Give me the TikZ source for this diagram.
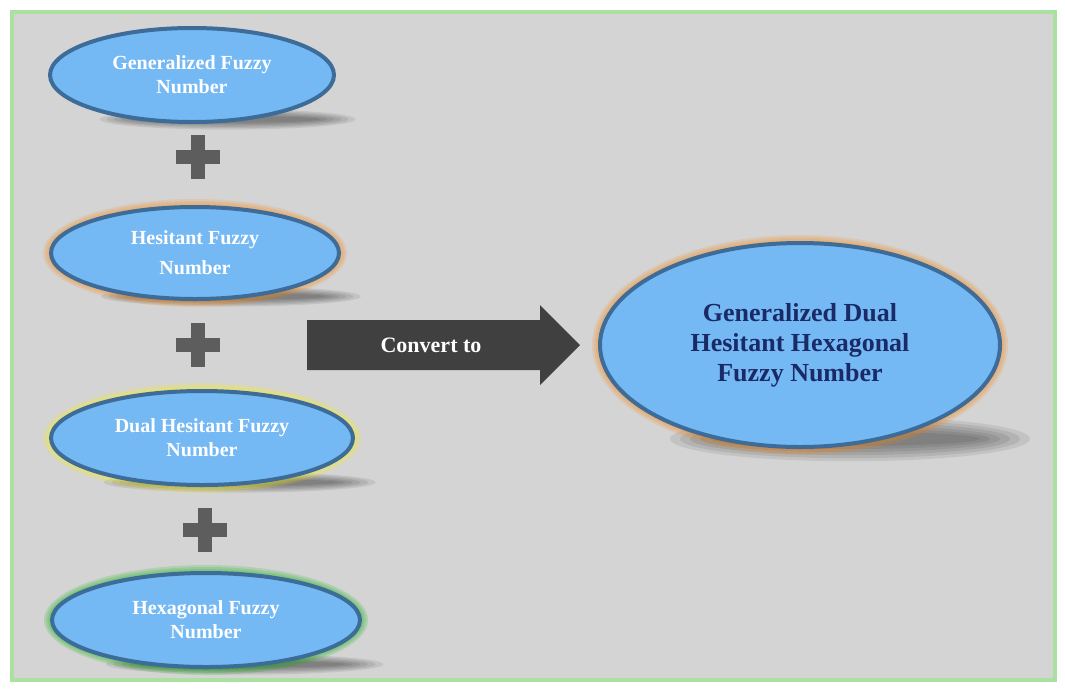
\documentclass[tikz,border=0pt]{standalone}
\usepackage{fontspec}
\setmainfont{Liberation Serif}
\usetikzlibrary{shapes.geometric}
\definecolor{bg}{HTML}{D4D4D4}
\definecolor{ef}{HTML}{74B8F4}
\definecolor{eb}{HTML}{3D6C98}
\definecolor{dk}{HTML}{404040}
\definecolor{navy}{HTML}{1A2A66}
\begin{document}
\begin{tikzpicture}[x=1pt,y=-1pt,
  ell/.style={ellipse,draw=eb,line width=4pt,fill=ef,inner sep=0pt,
    font=\bfseries\fontsize{20}{24}\selectfont,text=white,align=center},
  plus/.style={fill=dk!85}]
\useasboundingbox (0,0) rectangle (1065,689);
\fill[white] (0,0) rectangle (1065,689);
\draw[draw={rgb,255:red,170;green,225;blue,160},line width=4pt,fill=bg] (12,12) rectangle (1055,680);
% shadows
\foreach \x/\y/\rx/\ry in {192/75/142/47, 195/253/144/46, 202/438/151/47, 206/620/154/47, 800/345/200/102}{
  \foreach \k in {1,...,6}
    \fill[black,opacity=0.08] ({\x+0.25*\rx},{\y+0.9*\ry+2}) ellipse ({\rx*(0.6+0.05*\k)} and {\ry*(0.04+0.03*\k)});
}
% glows
\foreach \c/\x/\y/\rx/\ry in {orange/195/253/144/46, yellow/202/438/151/47, green!70!black/206/620/154/47, orange/800/345/200/102}
  \foreach \k in {2,4,6,8}
    \fill[\c,opacity=0.15] (\x,\y) ellipse ({\rx+\k} and {\ry+\k});
\node[ell,minimum width=284pt,minimum height=94pt] (a) at (192,75) {Generalized Fuzzy\\Number};
\node[ell,minimum width=288pt,minimum height=92pt] (b) at (195,253) {Hesitant Fuzzy\\[6pt]Number};
\node[ell,minimum width=302pt,minimum height=94pt] (c) at (202,438) {Dual Hesitant Fuzzy\\Number};
\node[ell,minimum width=308pt,minimum height=94pt] (d) at (206,620) {Hexagonal Fuzzy\\Number};
\node[ell,minimum width=400pt,minimum height=204pt,text=navy,font=\bfseries\fontsize{26}{30}\selectfont] (e) at (800,345) {Generalized Dual\\Hesitant Hexagonal\\Fuzzy Number};
\foreach \n/\x/\y in {p1/198/157, p2/198/345, p3/205/530}{
  \fill[plus] (\x-22,\y-7) rectangle (\x+22,\y+7);
  \fill[plus] (\x-7,\y-22) rectangle (\x+7,\y+22);
  \coordinate (\n) at (\x,\y);
}
\fill[dk] (307,320) -- (540,320) -- (540,305) -- (580,345) -- (540,385) -- (540,370) -- (307,370) -- cycle;
\node[text=white,font=\bfseries\fontsize{22}{26}\selectfont] (t) at (431,345) {Convert to};
\end{tikzpicture}
\end{document}
